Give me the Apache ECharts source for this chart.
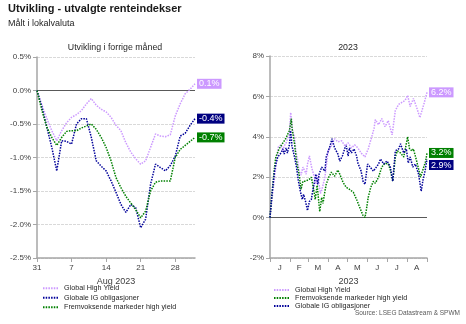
<!DOCTYPE html>
<html><head><meta charset="utf-8">
<script src="https://cdn.jsdelivr.net/npm/echarts@6/dist/echarts.min.js"></script>
<style>html,body{margin:0;padding:0;background:#fff}#c{width:466px;height:324px}</style>
</head><body><div id="c"></div>
<script>
const NAME_HY = 'Global High Yield';
const NAME_IG = 'Globale IG obligasjoner';
const NAME_EM = 'Fremvoksende markeder high yield';

// ---- Left panel: previous month (daily, % change) ----
const monthDates = ['2023-07-31','2023-08-01','2023-08-02','2023-08-03','2023-08-04','2023-08-05','2023-08-06','2023-08-07','2023-08-08','2023-08-09','2023-08-10','2023-08-11','2023-08-12','2023-08-13','2023-08-14','2023-08-15','2023-08-16','2023-08-17','2023-08-18','2023-08-19','2023-08-20','2023-08-21','2023-08-22','2023-08-23','2023-08-24','2023-08-25','2023-08-26','2023-08-27','2023-08-28','2023-08-29','2023-08-30','2023-08-31','2023-09-01'];
const monthHY = [0,-0.22,-0.42,-0.6,-0.75,-0.6,-0.48,-0.4,-0.36,-0.3,-0.2,-0.12,-0.22,-0.28,-0.32,-0.4,-0.52,-0.6,-0.78,-0.92,-1.02,-1.1,-1.05,-0.85,-0.65,-0.68,-0.69,-0.66,-0.38,-0.2,-0.05,0.02,0.1];
const monthIG = [0,-0.25,-0.55,-0.85,-1.2,-0.75,-0.76,-0.8,-0.5,-0.42,-0.42,-0.7,-1.05,-1.13,-1.2,-1.35,-1.52,-1.7,-1.82,-1.7,-1.75,-2.05,-1.92,-1.4,-1.1,-1.15,-1.2,-1.12,-0.98,-0.68,-0.64,-0.52,-0.42];
const monthEM = [0,-0.3,-0.55,-0.7,-0.82,-0.7,-0.61,-0.6,-0.6,-0.56,-0.53,-0.5,-0.58,-0.7,-0.85,-1.05,-1.3,-1.45,-1.58,-1.68,-1.78,-1.9,-1.8,-1.5,-1.37,-1.35,-1.35,-1.35,-1.0,-0.88,-0.82,-0.76,-0.7];
const monthTickDates = ['2023-07-31','2023-08-07','2023-08-14','2023-08-21','2023-08-28'];

// ---- Right panel: 2023 year to date (% change) ----
const ytdHYDates = ['01-01','01-05','01-10','01-14','01-18','01-21','01-23','01-26','01-28','01-31','02-02','02-05','02-08','02-10','02-13','02-15','02-18','02-21','02-23','02-26','02-28','03-03','03-06','03-08','03-11','03-13','03-16','03-18','03-20','03-22','03-27','04-01','04-06','04-11','04-16','04-22','04-27','05-02','05-07','05-12','05-17','05-22','05-28','06-02','06-07','06-11','06-13','06-18','06-23','06-28','07-03','07-09','07-14','07-19','07-24','07-29','08-02','08-06','08-11','08-16','08-21','08-27','09-01'];
const ytdHY = [0,1.15,2.5,3.5,3.6,3.3,3.55,3.7,3.9,4.1,5.2,4.3,4.0,3.3,2.8,2.3,2.1,2.5,2.55,2.15,2.65,3.05,2.55,2.3,2.0,1.65,2.1,1.65,1.2,1.35,2.0,3.3,3.55,3.9,3.75,3.8,3.55,3.7,3.45,3.6,3.45,3.2,3.0,3.4,3.95,4.4,4.85,4.6,4.9,4.5,4.8,4.1,5.3,5.6,5.7,5.8,6.05,5.5,5.9,5.45,4.95,5.6,6.2];
const ytdIGDates = ['01-01','01-04','01-08','01-10','01-13','01-18','01-21','01-23','01-26','01-28','01-31','02-02','02-04','02-08','02-11','02-14','02-17','02-20','02-22','02-25','02-28','03-03','03-06','03-08','03-11','03-13','03-16','03-18','03-22','03-27','03-29','04-04','04-07','04-11','04-16','04-19','04-23','04-27','04-29','05-02','05-04','05-07','05-11','05-15','05-17','05-22','05-25','05-28','06-01','06-05','06-10','06-13','06-18','06-21','06-26','07-01','07-06','07-10','07-14','07-19','07-22','07-27','07-31','08-03','08-06','08-10','08-14','08-19','08-23','08-26','08-29','09-01'];
const ytdIG = [0,1.15,2.3,2.65,3.0,3.2,3.4,3.15,3.45,3.2,3.6,4.3,3.55,3.0,2.5,1.8,1.3,0.9,1.15,0.8,0.35,0.8,0.9,1.3,1.8,2.15,1.65,2.15,2.5,2.3,3.0,3.55,3.9,3.45,3.15,2.8,3.05,3.45,3.55,3.05,3.45,3.2,3.4,3.05,2.7,2.3,1.8,1.65,2.65,2.5,2.3,2.25,2.65,2.9,2.65,2.8,2.55,1.8,3.3,3.4,3.65,3.2,3.4,2.7,3.0,2.5,2.65,2.15,1.3,1.9,2.3,2.9];
const ytdEMDates = ['01-01','01-04','01-08','01-10','01-15','01-21','01-26','01-28','01-31','02-03','02-04','02-08','02-11','02-15','02-18','02-21','02-25','02-28','03-03','03-06','03-09','03-12','03-15','03-19','03-22','03-24','03-27','03-29','04-02','04-06','04-11','04-16','04-19','04-24','04-29','05-04','05-10','05-15','05-20','05-25','05-28','05-30','06-02','06-06','06-10','06-13','06-18','06-23','06-28','07-03','07-06','07-10','07-14','07-17','07-22','07-27','08-02','08-05','08-09','08-11','08-16','08-22','08-27','08-30','09-01'];
const ytdEM = [0,1.15,2.5,3.0,3.4,3.7,3.95,4.1,4.3,4.9,4.45,3.65,2.8,2.15,1.4,1.8,1.8,1.75,1.9,2.0,1.5,0.9,1.6,0.3,1.0,0.7,1.3,1.65,2.0,2.25,2.05,2.35,2.15,1.75,1.5,1.4,1.25,0.9,0.5,0.1,0.0,0.35,1.0,1.5,1.8,1.7,2.0,2.5,2.7,2.65,2.4,1.8,3.0,3.3,3.2,3.0,4.0,3.4,3.3,3.4,2.8,2.0,2.5,2.8,3.2];
const yearTickDates = ['2023-01-01','2023-02-01','2023-03-01','2023-04-01','2023-05-01','2023-06-01','2023-07-01','2023-08-01','2023-09-01'];
const yearLabelDates = ['2023-01-16','2023-02-15','2023-03-16','2023-04-16','2023-05-16','2023-06-16','2023-07-16','2023-08-16'];
const yearMonthLetters = ['J','F','M','A','M','J','J','A'];

const C_HY = '#cc99ff', C_IG = '#000099', C_EM = '#008000';
const C_HY_LBL = '#cc99ff', C_IG_LBL = '#000080', C_EM_LBL = '#008000';

function ts(s){ const p = s.split('-').map(Number); return Date.UTC(p[0], p[1]-1, p[2]); }
function pairs(dates, vals, prefix){ return dates.map((d,i)=>[ts((prefix||'')+d), vals[i]]); }

const axisGray = '#a6a6a6', txt = '#404040';
const lineType = [1.5, 1.2];
const font = 'Liberation Sans, Arial, sans-serif';

function mkSeries(name, color, lblColor, data, xi, yi, labelOffset, zeroLine){
  const s = {
    name, type:'line', xAxisIndex:xi, yAxisIndex:yi, data, symbol:'none',
    lineStyle:{color, width:1.5, type:lineType}, itemStyle:{color},
    endLabel:{show:true, formatter:p=>p.value[1].toFixed(1)+'%', color:'#fff', backgroundColor:lblColor,
      fontSize:9, fontFamily:font, padding:[1,2,0,2], distance:2, offset:labelOffset||[0,0]},
    z:3
  };
  if (zeroLine) s.markLine = {silent:true, symbol:'none', label:{show:false}, lineStyle:{color:'#595959', type:'solid', width:1}, data:[{yAxis:0}], z:1};
  return s;
}

const chart = echarts.init(document.getElementById('c'), null, {renderer:'canvas'});
const yAxisCommon = {
  type:'value', axisLine:{show:true, lineStyle:{color:axisGray, width:1.5}},
  axisTick:{show:true, length:4, lineStyle:{color:axisGray}},
  splitLine:{show:true, lineStyle:{color:'#d9d9d9', type:[3,1]}},
  axisLabel:{color:txt, fontSize:8, fontFamily:font, margin:6}
};
const mTicks = monthTickDates.map(ts);
const yTicks = yearTickDates.map(ts);
const yLabels = yearLabelDates.map(ts);
const legendCommon = {orient:'vertical', padding:0, itemWidth:16, itemHeight:4, itemGap:0, itemStyle:{opacity:0}};
chart.setOption({
  animation:false,
  textStyle:{fontFamily:font},
  title:{text:'Utvikling - utvalgte renteindekser', subtext:'Målt i lokalvaluta', left:8, top:3, padding:0, itemGap:5,
    textStyle:{fontSize:11, fontWeight:'bold', color:'#1a1a1a', fontFamily:font},
    subtextStyle:{fontSize:9, color:'#262626', fontFamily:font}},
  graphic:[
    {type:'text', x:115, y:48, style:{text:'Utvikling i forrige måned', textAlign:'center', textVerticalAlign:'middle', fontSize:8.8, fill:'#262626', fontFamily:font}},
    {type:'text', x:348, y:48, style:{text:'2023', textAlign:'center', textVerticalAlign:'middle', fontSize:8.8, fill:'#262626', fontFamily:font}},
    {type:'text', x:460, y:313, style:{text:'Source: LSEG Datastream & SPWM', textAlign:'right', textVerticalAlign:'middle', fontSize:6.5, fill:'#595959', fontFamily:font}}
  ],
  legend:[
    Object.assign({}, legendCommon, {data:[NAME_HY, NAME_IG, NAME_EM], left:42, top:283.5,
      textStyle:{fontSize:7.2, color:'#262626', fontFamily:font, lineHeight:9.5}}),
    Object.assign({}, legendCommon, {data:[NAME_HY, NAME_EM, NAME_IG], left:273, top:286,
      textStyle:{fontSize:7.2, color:'#262626', fontFamily:font, lineHeight:8}})
  ],
  grid:[
    {left:37, top:57, width:158, height:201},
    {left:270, top:56, width:157, height:202}
  ],
  xAxis:[
    {type:'value', gridIndex:0, min:mTicks[0], max:ts(monthDates[monthDates.length-1]),
      axisLine:{onZero:false, lineStyle:{color:axisGray, width:1.5}},
      axisTick:{show:true, customValues:mTicks, length:4, lineStyle:{color:axisGray}},
      axisLabel:{customValues:mTicks, formatter:v=>String(new Date(v).getUTCDate()), color:txt, fontSize:8, margin:6, fontFamily:font},
      splitLine:{show:false}, name:'Aug 2023', nameLocation:'middle', nameGap:14, nameTextStyle:{color:txt, fontSize:9, fontFamily:font}},
    {type:'value', gridIndex:1, min:yTicks[0], max:yTicks[yTicks.length-1],
      axisLine:{onZero:false, lineStyle:{color:axisGray, width:1.5}},
      axisTick:{show:true, customValues:yTicks, length:4, lineStyle:{color:axisGray}},
      axisLabel:{customValues:yLabels, formatter:v=>yearMonthLetters[new Date(v).getUTCMonth()], color:txt, fontSize:8, margin:6, fontFamily:font},
      splitLine:{show:false}, name:'2023', nameLocation:'middle', nameGap:14, nameTextStyle:{color:txt, fontSize:9, fontFamily:font}}
  ],
  yAxis:[
    Object.assign({}, yAxisCommon, {gridIndex:0, min:-2.5, max:0.5, interval:0.5,
      axisLabel:Object.assign({}, yAxisCommon.axisLabel, {formatter:v=>v.toFixed(1)+'%'})}),
    Object.assign({}, yAxisCommon, {gridIndex:1, min:-2, max:8, interval:2,
      axisLabel:Object.assign({}, yAxisCommon.axisLabel, {formatter:v=>v+'%'})})
  ],
  series:[
    mkSeries(NAME_HY, C_HY, C_HY_LBL, monthDates.map((d,i)=>[ts(d), monthHY[i]]), 0, 0, [0,0], true),
    mkSeries(NAME_IG, C_IG, C_IG_LBL, monthDates.map((d,i)=>[ts(d), monthIG[i]]), 0, 0),
    mkSeries(NAME_EM, C_EM, C_EM_LBL, monthDates.map((d,i)=>[ts(d), monthEM[i]]), 0, 0),
    mkSeries(NAME_HY, C_HY, C_HY_LBL, pairs(ytdHYDates, ytdHY, '2023-'), 1, 1, [0,0], true),
    mkSeries(NAME_EM, C_EM, C_EM_LBL, pairs(ytdEMDates, ytdEM, '2023-'), 1, 1),
    mkSeries(NAME_IG, C_IG, C_IG_LBL, pairs(ytdIGDates, ytdIG, '2023-'), 1, 1, [0,6])
  ]
});
</script></body></html>
